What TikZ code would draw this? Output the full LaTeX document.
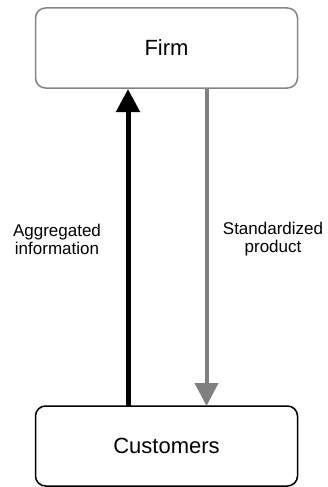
\documentclass[tikz,border=0pt]{standalone}
\usepackage{fontspec}
\setmainfont{Liberation Sans}
\usetikzlibrary{arrows.meta}
\begin{document}
\begin{tikzpicture}[x=1pt,y=-1pt,
  box/.style={draw, rounded corners=10pt, line width=1.5pt, minimum width=262pt,
    minimum height=80pt, inner sep=0pt, font=\fontsize{22}{26}\selectfont},
  lbl/.style={align=center, font=\fontsize{17}{18}\selectfont},
  flow/.style={-{Triangle[width=23pt,length=23pt]}}]
  \useasboundingbox (0,0) rectangle (328,487);
  \node[box, draw=black!48] (firm) at (166.5,48) {Firm};
  \node[box, draw=black] (cust) at (166.5,446) {Customers};
  \coordinate (upfoot) at (128,406);
  \coordinate (uptip) at (128,89);
  \coordinate (downfoot) at (206.5,89);
  \coordinate (downtip) at (206.5,406);
  \draw[flow, line width=5pt, black] (upfoot) -- (uptip);
  \draw[flow, line width=4pt, black!50] (downfoot) -- (downtip);
  \node[lbl] (agg) at (57,239) {Aggregated\\information};
  \node[lbl] (std) at (273,239) {Standardized\\product};
\end{tikzpicture}
\end{document}
